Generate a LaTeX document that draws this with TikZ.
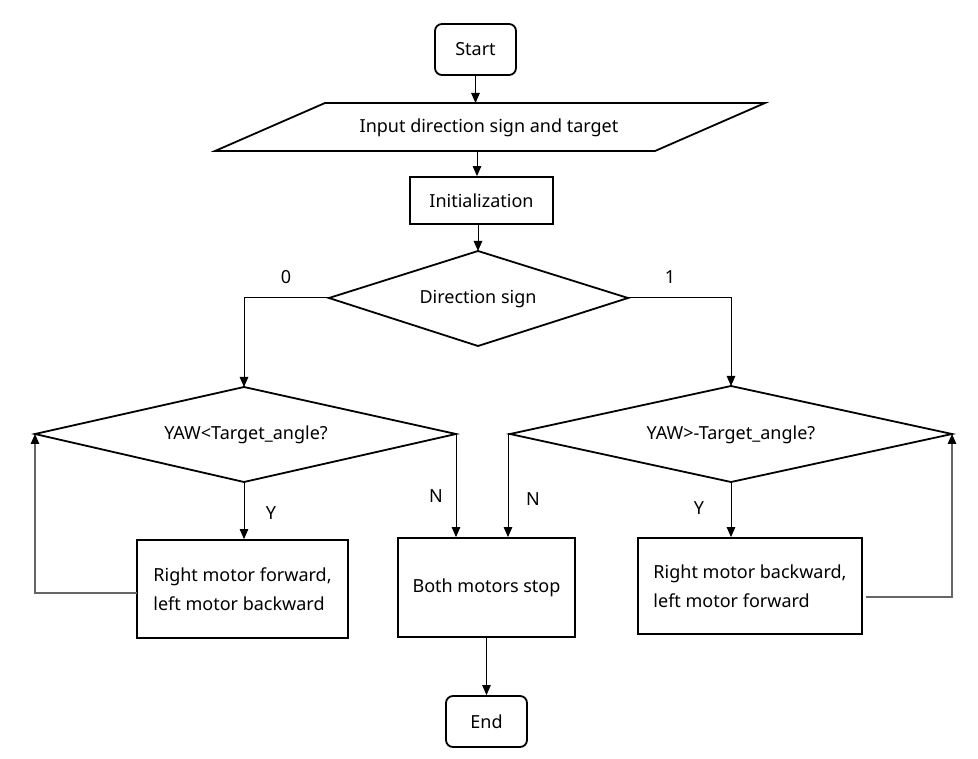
\documentclass[tikz,border=0pt]{standalone}
\usepackage{fontspec}
\setmainfont{Noto Sans}
\usetikzlibrary{arrows.meta}
\begin{document}
\begin{tikzpicture}[x=1pt,y=-1pt,
  box/.style={draw, line width=1.8pt, line join=miter, inner sep=0pt, font=\fontsize{18}{29}\selectfont},
  rbox/.style={box, rounded corners=7pt},
  outl/.style={draw, line width=1.8pt, line join=miter},
  txt/.style={inner sep=0pt, font=\fontsize{18}{29}\selectfont},
  conn/.style={line width=1pt, -{Triangle[length=10pt,width=8.5pt]}},
  fb/.style={line width=1.3pt, draw=black!60, -{Triangle[length=10pt,width=8.5pt,color=black]}},
  lbl/.style={inner sep=0pt, font=\fontsize{18}{20}\selectfont}]
\useasboundingbox[fill=white] (0,0) rectangle (978,759);

% Start
\node[rbox, minimum width=81pt, minimum height=51pt] (start) at (475.5,49.5) {Start};

% Input parallelogram
\coordinate (pA) at (325,103);
\coordinate (pB) at (765,103);
\coordinate (pC) at (655,151);
\coordinate (pD) at (215,151);
\draw[outl] (pA) -- (pB) -- (pC) -- (pD) -- cycle;
\node[txt] (input) at (489,128) {Input direction sign and target};
\coordinate (inT) at (475.5,103);
\coordinate (inB) at (477,151);

% Initialization
\node[box, minimum width=143pt, minimum height=47pt] (init) at (481.5,200.5) {Initialization};

% Direction diamond
\coordinate (dT) at (478,251);
\coordinate (dL) at (329,298);
\coordinate (dR) at (628,298);
\coordinate (dB) at (478,346);
\draw[outl] (dT) -- (dR) -- (dB) -- (dL) -- cycle;
\node[txt] (dir) at (478,299) {Direction sign};

% Left diamond
\coordinate (lT) at (244,387);
\coordinate (lL) at (35,434);
\coordinate (lR) at (456,434);
\coordinate (lB) at (244,482);
\draw[outl] (lT) -- (lR) -- (lB) -- (lL) -- cycle;
\node[txt] (ldia) at (246,435) {YAW<Target\_angle?};

% Right diamond
\coordinate (rT) at (731,386);
\coordinate (rL) at (510,434);
\coordinate (rR) at (952,434);
\coordinate (rB) at (731,482);
\draw[outl] (rT) -- (rR) -- (rB) -- (rL) -- cycle;
\node[txt] (rdia) at (731,435) {YAW>-Target\_angle?};

% Boxes
\node[box, minimum width=211pt, minimum height=98pt, align=left] (lbox) at (242.5,589) {Right motor forward,\\left motor backward};
\node[box, minimum width=177pt, minimum height=99pt] (mid) at (486.5,587.5) {Both motors stop};
\node[box, minimum width=224pt, minimum height=96pt, align=left] (rbox) at (750,586) {Right motor backward,\\left motor forward};

% End
\node[rbox, minimum width=81pt, minimum height=51pt] (end) at (486.5,721.5) {End};

% Connectors
\draw[conn] (start.south) -- (inT);
\draw[conn] (inB) -- (inB |- init.north);
\draw[conn] (init.south -| dT) -- (dT);
\draw[conn] (dL) -| (lT);
\draw[conn] (dR) -| (rT);
\draw[conn] (lB) -- (lB |- lbox.north);
\draw[conn] (rB) -- (rB |- rbox.north);
\draw[conn] (lR) -- (lR |- mid.north);
\coordinate (rN) at (508,434);
\draw[conn] (rL) -- (rN) -- (rN |- mid.north);
\draw[conn] (mid.south -| end.north) -- (end.north);

% Feedback loops
\coordinate (lfb) at (137,593);
\coordinate (rfb) at (866,597);
\draw[fb] (lfb) -| (lL);
\draw[fb] (rfb) -| (rR);

% Labels
\node[lbl] (l0) at (286,277) {0};
\node[lbl] (l1) at (670,277) {1};
\node[lbl] (lY) at (271,513) {Y};
\node[lbl] (rY) at (699,508) {Y};
\node[lbl] (lN) at (436,496) {N};
\node[lbl] (rN2) at (533,499) {N};
\end{tikzpicture}
\end{document}
